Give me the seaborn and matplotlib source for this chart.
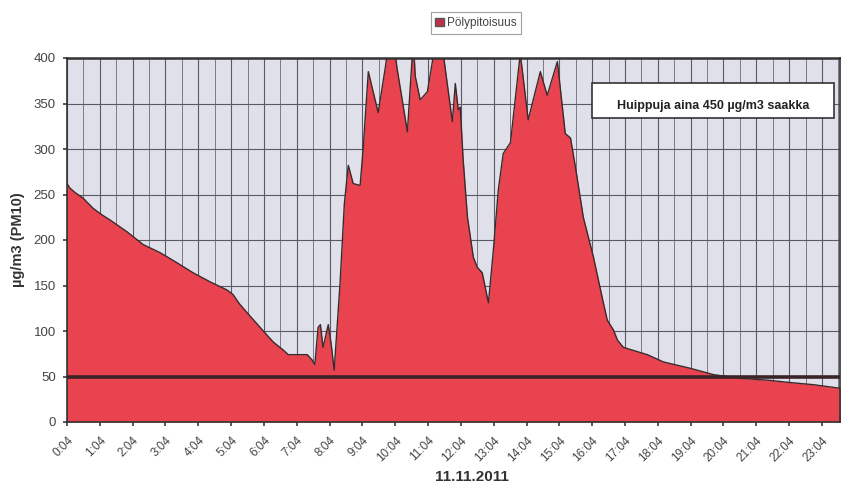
import numpy as np
import pandas as pd
import matplotlib
matplotlib.use("Agg")
import matplotlib.pyplot as plt
import seaborn as sns
from matplotlib.patches import Patch, Rectangle

# hours after 0:04
hours = [0.00, 0.09, 0.25, 0.49, 0.79, 1.05, 1.31, 1.83, 2.32, 2.84, 3.35, 3.84,
         4.36, 4.88, 5.06, 5.25, 5.49, 5.98, 6.28, 6.59, 6.74, 7.00, 7.32, 7.47,
         7.55, 7.65, 7.72, 7.80, 7.96, 8.05, 8.14, 8.32, 8.45, 8.57, 8.72, 8.93,
         9.02, 9.18, 9.48, 9.70, 9.88, 10.05, 10.37, 10.55, 10.61, 10.76, 10.98,
         11.15, 11.31, 11.48, 11.74, 11.83, 11.92, 11.98, 12.07, 12.20, 12.29,
         12.38, 12.50, 12.65, 12.84, 12.99, 13.14, 13.29, 13.51, 13.81, 14.05,
         14.42, 14.63, 14.94, 15.18, 15.34, 15.49, 15.73, 16.04, 16.34, 16.46,
         16.65, 16.77, 16.95, 17.68, 18.17, 18.99, 19.70, 20.52, 21.34, 22.13,
         22.74, 23.57]
pm10 = [262, 257, 252, 246, 235, 228, 222, 209, 195, 186, 175, 164,
        154, 145, 140, 130, 120, 100, 88, 79, 74, 74, 74, 68,
        63, 104, 107, 82, 107, 85, 57, 153, 240, 282, 262, 260,
        299, 385, 340, 390, 440, 390, 319, 420, 380, 354, 363,
        400, 450, 400, 330, 372, 343, 346, 288, 225, 203,
        181, 170, 164, 131, 189, 255, 295, 307, 405, 332,
        385, 359, 396, 317, 312, 280, 225, 181, 131, 112,
        101, 90, 82, 74, 66, 59, 52, 48, 46, 43,
        41, 37]
tick_labels = [f"{h}:04" for h in range(24)]
yticks = [0, 50, 100, 150, 200, 250, 300, 350, 400]
limit_value = 50
series_name = "Pölypitoisuus"
note = "Huippuja aina 450 µg/m3 saakka"

df = pd.DataFrame({"h": hours, "v": pm10})

sns.set_theme(style="white")
plt.rcParams['font.family'] = ['Liberation Sans', 'DejaVu Sans']

fig = plt.figure(figsize=(8.41, 4.88), dpi=100)
ax = fig.add_axes([67/841, 66/488, (840-67)/841, (422-58)/488])
ax.set_facecolor("#e0e0ea")

fill_col = "#e9434f"
ax.fill_between(df["h"], df["v"], 0, color=fill_col, zorder=2, linewidth=0)
sns.lineplot(data=df, x="h", y="v", ax=ax, color="#3a2a2c", linewidth=1.0,
             zorder=3, legend=False)
ax.axhline(limit_value, color="#3b2428", linewidth=2.6, zorder=4)

ax.set_xlim(0, 23.55)
ax.set_ylim(0, 400)
ax.set_xticks(range(24))
ax.set_xticklabels(tick_labels, rotation=45, ha="right", rotation_mode="anchor",
                   fontsize=8.5, color="#444444")
ax.set_xticks(np.arange(0.5, 23.6, 1.0), minor=True)
ax.set_yticks(yticks)
ax.set_yticklabels([str(y) for y in yticks], fontsize=9.5, color="#444444")
ax.grid(True, which="major", color="#5a5a66", linewidth=0.8, zorder=1)
ax.grid(True, which="minor", axis="x", color="#6a6a76", linewidth=0.6, zorder=1)
ax.set_axisbelow(True)
ax.tick_params(axis="x", which="major", length=3, color="#444444", pad=6,
               bottom=True)
ax.tick_params(axis="y", which="major", length=3, color="#444444", pad=5,
               left=True)
ax.tick_params(axis="x", which="minor", length=0)
for s in ax.spines.values():
    s.set_color("#333333")
    s.set_linewidth(1.2)
ax.spines["top"].set_linewidth(1.8)

ax.set_ylabel("µg/m3 (PM10)", fontsize=10.5, fontweight="bold", color="#333333",
              labelpad=8)
ax.yaxis.set_label_coords(-(67-25)/773, 0.5)
ax.set_xlabel("11.11.2011", fontsize=11, fontweight="bold", color="#333333",
              labelpad=0)
ax.xaxis.set_label_coords((472-67)/773, -(470-422)/364)

ax.add_patch(Rectangle(((592-67)/773, (422-118)/364), (834-592)/773, 35/364,
                       transform=ax.transAxes, facecolor="white",
                       edgecolor="#333333", linewidth=1.2, zorder=6))
ax.text((713-67)/773, (422-106)/364, note, transform=ax.transAxes,
        ha="center", va="center", fontsize=9, fontweight="bold",
        color="#222222", zorder=7)

leg = fig.legend(handles=[Patch(facecolor="#c0304a", edgecolor="#555555",
                                label=series_name)],
                 loc="center", bbox_to_anchor=(476/841, 1 - 23/488),
                 fontsize=8.5, frameon=True, fancybox=False, handlelength=0.7,
                 handleheight=0.7, handletextpad=0.3, borderpad=0.4,
                 labelcolor="#444444")
leg.get_frame().set_edgecolor("#888888")
leg.get_frame().set_linewidth(0.8)

fig.savefig("out.png", dpi=100)
